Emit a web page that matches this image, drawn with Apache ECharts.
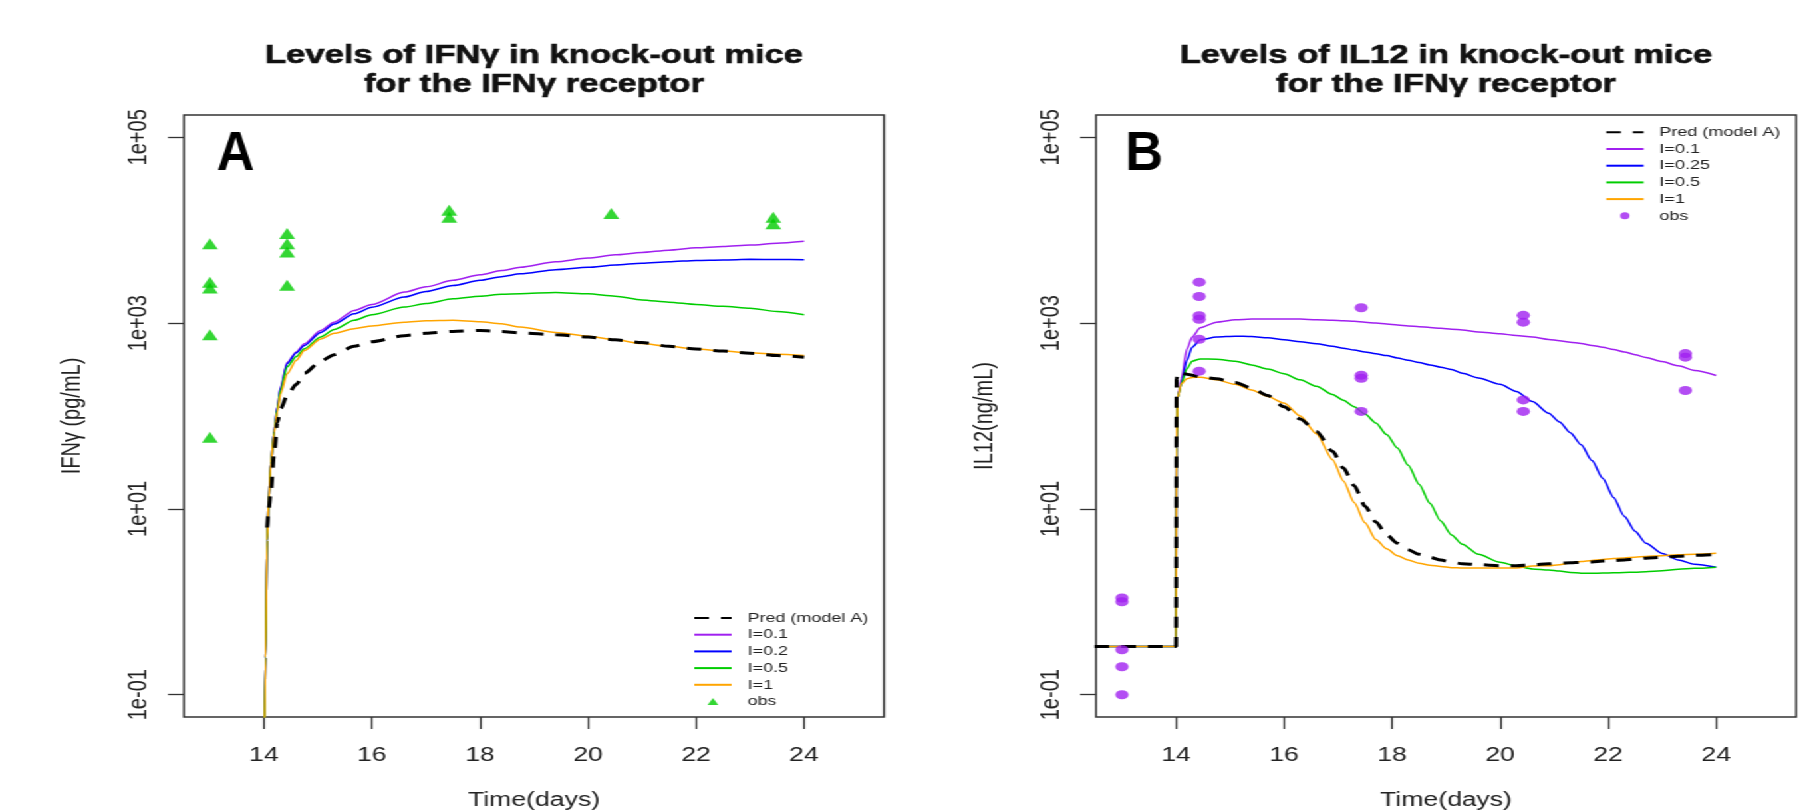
<!DOCTYPE html>
<html>
<head>
<meta charset="utf-8">
<title>Cytokine levels in IFNγ receptor knock-out mice</title>
<script src="https://cdn.jsdelivr.net/npm/echarts@6/dist/echarts.min.js"></script>
<style>
  html, body { margin: 0; padding: 0; background: #ffffff; overflow: hidden; }
  /* The two R-style panels are laid out on a narrower stage and widened as a whole. */
  #stage { width: 1366px; height: 810px; display: flex; transform: scaleX(1.33016); transform-origin: 0 0; }
  #panelA, #panelB { width: 683px; height: 810px; }
</style>
</head>
<body>
<div id="stage"><div id="panelA"></div><div id="panelB"></div></div>
<script>
// ---------- shared axis settings ----------
const xTicks = [14, 16, 18, 20, 22, 24];
const yTicks = [0.1, 10, 1000, 100000];
const yTickLabels = ['1e-01', '1e+01', '1e+03', '1e+05'];

// ---------- panel A : IFNγ (pg/mL) ----------
const timeA = [14.0, 14.03, 14.06, 14.09, 14.13, 14.19, 14.25, 14.31, 14.43, 14.6, 14.75,
  15.05, 15.3, 15.67, 16.0, 16.6, 17.0, 17.5, 18.0, 18.4, 18.75, 19.4, 20.0, 20.5, 21.0,
  21.5, 22.0, 22.5, 23.0, 23.5, 24.0];
const predA = [null, null, 6.3, 10, 15.8, 39.8, 85, 120, 166, 219, 288, 389, 457, 562, 631,
  733, 776, 813, 832, 813, 785, 750, 708, 661, 617, 562, 525, 501, 473, 447, 430];
const i01A = [0.01, 0.25, 4.6, 12.3, 31.6, 69, 126, 204, 376, 490, 600, 832, 1023, 1368, 1585,
  2158, 2455, 2884, 3311, 3673, 3981, 4571, 5012, 5433, 5754, 6095, 6457, 6683, 6918, 7244, 7586];
const i02A = [0.01, 0.25, 4.6, 12.3, 31.6, 69, 126, 200, 367, 479, 575, 794, 977, 1259, 1479,
  1905, 2188, 2541, 2884, 3162, 3388, 3758, 3981, 4217, 4416, 4571, 4732, 4786, 4853, 4842, 4819];
const i05A = [0.01, 0.25, 4.6, 12.3, 31.6, 68, 120, 191, 339, 437, 530, 708, 851, 1072, 1230,
  1486, 1622, 1828, 1950, 2042, 2070, 2138, 2065, 1950, 1778, 1679, 1585, 1514, 1445, 1334, 1230];
const i1A = [0.01, 0.25, 4.6, 12.3, 31.6, 66, 112, 174, 285, 398, 507, 676, 776, 871, 933,
  1023, 1059, 1072, 1035, 984, 906, 794, 724, 661, 603, 562, 525, 501, 479, 462, 449];
const obsDayA = [13, 13, 13, 13, 13, 14.43, 14.43, 14.43, 14.43, 17.43, 17.43, 20.43, 23.43, 23.43];
const obsValA = [7160, 2760, 2380, 750, 59, 9200, 7160, 5820, 2550, 16400, 13800, 15100, 13800, 11700];

// ---------- panel B : IL12 (ng/mL) ----------
const timeB = [12.0, 14.0, 14.01, 14.03, 14.1, 14.2, 14.3, 14.45, 14.75, 15.1, 15.4, 15.7, 16.0,
  16.3, 16.6, 16.9, 17.1, 17.3, 17.5, 17.7, 17.9, 18.1, 18.3, 18.5, 18.7, 18.9, 19.1, 19.3,
  19.6, 20.0, 20.3, 20.6, 20.9, 21.1, 21.3, 21.5, 21.7, 21.9, 22.1, 22.3, 22.5, 22.7, 23.0,
  23.3, 23.6, 24.0];
const predB = [0.33, 0.33, 251, 295, 288, 282, 275, 263, 251, 229, 200, 166, 126, 93, 68, 41.7,
  27.5, 17.8, 10.7, 7.24, 5.25, 4.27, 3.63, 3.24, 3.02, 2.82, 2.66, 2.57, 2.51, 2.45, 2.45, 2.51,
  2.57, 2.60, 2.63, 2.66, 2.69, 2.75, 2.77, 2.82, 2.88, 2.95, 3.02, 3.09, 3.16, 3.24];
const i01B = [0.33, 0.33, 45.7, 158, 251, 525, 708, 891, 1023, 1084, 1104, 1109, 1109, 1104, 1089,
  1072, 1059, 1047, 1023, 1000, 977, 955, 933, 916, 895, 881, 861, 841, 804, 767, 736, 708, 668,
  646, 624, 603, 575, 550, 519, 490, 457, 427, 385, 347, 309, 273];
const i025B = [0.33, 0.33, 45.7, 158, 224, 398, 550, 661, 708, 724, 716, 695, 661, 631, 600, 562,
  537, 513, 490, 468, 447, 422, 398, 376, 355, 335, 316, 288, 257, 219, 184, 143, 107, 86.1, 66.1,
  49.0, 33.1, 21.4, 13.3, 8.32, 5.75, 4.27, 3.31, 2.82, 2.54, 2.36];
const i05B = [0.33, 0.33, 45.7, 158, 222, 322, 389, 412, 409, 389, 355, 320, 285, 245, 209, 170,
  148, 126, 105, 84, 63.1, 45.2, 29.5, 18.4, 11.5, 7.41, 5.25, 4.17, 3.24, 2.66, 2.43, 2.26, 2.20,
  2.14, 2.07, 2.03, 2.03, 2.04, 2.05, 2.07, 2.08, 2.11, 2.16, 2.24, 2.29, 2.36];
const i1B = [0.33, 0.33, 45.7, 158, 222, 251, 260, 262, 245, 219, 191, 162, 138, 100, 64.6, 33.9,
  20.0, 11.7, 7.08, 4.68, 3.72, 3.13, 2.82, 2.60, 2.48, 2.40, 2.33, 2.31, 2.31, 2.31, 2.31, 2.43,
  2.45, 2.51, 2.63, 2.72, 2.79, 2.85, 2.92, 2.96, 3.02, 3.08, 3.13, 3.20, 3.25, 3.33];
const obsDayB = [13, 13, 13, 13, 13, 14.43, 14.43, 14.43, 14.43, 14.43, 14.43,
  17.43, 17.43, 17.43, 17.43, 20.43, 20.43, 20.43, 20.43, 23.43, 23.43, 23.43];
const obsValB = [1.1, 1.0, 0.305, 0.2, 0.1, 2760, 1936, 1200, 1100, 671, 304,
  1462, 275, 255, 112, 1211, 1023, 149, 112, 470, 430, 188];

// ---------- styling ----------
const FONT = '"Liberation Sans", Arial, Helvetica, sans-serif';
const INK = '#222222';
const FRAME = '#333333';
const COLORS = { pred: '#000000', i01: '#a020f0', i02: '#0000ff', i05: '#00cd00', i1: '#ffa500' };
// small upright triangle used as the legend key of the observations
const TRIANGLE_KEY = 'path://M0,10L5.8,0L11.6,10Z';

function pairs(xs, ys) {
  return xs.map((x, k) => [x, ys[k]]);
}

function lineSeries(name, xs, ys, color, extra) {
  return Object.assign({
    name: name,
    type: 'line',
    data: pairs(xs, ys),
    symbol: 'none',
    showSymbol: false,
    connectNulls: false,
    smooth: 0.25,
    smoothMonotone: 'x',
    clip: true,
    color: color,
    lineStyle: { color: color, width: 1.5 },
    emphasis: { disabled: true },
    z: 2
  }, extra || {});
}

function yLabel(v) {
  const e = Math.round(Math.log10(v));
  const idx = yTicks.findIndex(t => Math.abs(Math.log10(t) - e) < 1e-6);
  return idx >= 0 ? yTickLabels[idx] : '';
}

// legend entries: plain line keys (no dot) for the model curves, marker key for obs
function legendEntries(names, obsIcon) {
  return names.map(n => n === 'obs'
    ? { name: n, icon: obsIcon }
    : { name: n, itemStyle: { opacity: 0 } });
}

function panelOption(p) {
  return {
    animation: false,
    backgroundColor: '#ffffff',
    title: {
      text: p.title,
      left: p.titleX,
      top: 41,
      textAlign: 'center',
      padding: 0,
      textStyle: {
        fontFamily: FONT, fontWeight: 'bold', fontSize: 26, lineHeight: 29, color: '#111111',
        textBorderColor: '#111111', textBorderWidth: 0.6
      }
    },
    grid: {
      left: p.gridLeft, top: 115, width: 526.3, height: 602,
      outerBoundsMode: 'none',
      containLabel: false,
      show: true, borderColor: FRAME, borderWidth: 1.5, backgroundColor: 'transparent'
    },
    xAxis: {
      type: 'value',
      min: 12.52,
      max: 25.48,
      name: 'Time(days)',
      nameLocation: 'middle',
      nameGap: 73,
      nameTextStyle: { fontFamily: FONT, fontSize: 20, color: INK },
      axisLine: { show: false },
      splitLine: { show: false },
      axisTick: { show: true, length: 12, customValues: xTicks, lineStyle: { color: FRAME, width: 1.3 } },
      axisLabel: { customValues: xTicks, margin: 28, fontFamily: FONT, fontSize: 20, color: INK }
    },
    yAxis: {
      type: 'log',
      logBase: 10,
      min: Math.pow(10, -1.24),
      max: Math.pow(10, 5.24),
      name: p.yName,
      nameLocation: 'middle',
      nameGap: 74,
      nameTextStyle: { fontFamily: FONT, fontSize: 20, color: INK },
      axisLine: { show: false },
      splitLine: { show: false },
      minorTick: { show: false },
      axisTick: { show: true, length: 12, customValues: yTicks, lineStyle: { color: FRAME, width: 1.3 } },
      axisLabel: {
        customValues: yTicks, rotate: 90, margin: 24, fontFamily: FONT, fontSize: 20, color: INK,
        formatter: yLabel
      }
    },
    legend: {
      orient: 'vertical',
      left: p.legendLeft,
      top: p.legendTop,
      padding: 0,
      itemGap: 2.7,
      itemWidth: 28,
      itemHeight: 7,
      symbolKeepAspect: true,
      selectedMode: false,
      data: legendEntries(p.legendNames, p.obsIcon),
      formatter: name => '{t|' + name + '}',
      textStyle: {
        fontFamily: FONT, fontSize: 13.5, lineHeight: 14, color: INK,
        rich: { t: { fontFamily: FONT, fontSize: 13.5, lineHeight: 14, color: INK, padding: [0, 0, 0, 7] } }
      }
    },
    graphic: [{
      type: 'text',
      x: p.letterX,
      y: 155,
      scaleX: 0.7,
      silent: true,
      style: {
        text: p.letter,
        font: 'bold 56px ' + FONT,
        fill: '#000000',
        align: 'left',
        verticalAlign: 'middle'
      }
    }],
    series: p.series
  };
}

// ---------- panel A ----------
const chartA = echarts.init(document.getElementById('panelA'));
chartA.setOption(panelOption({
  title: 'Levels of IFNγ in knock-out mice\nfor the IFNγ receptor',
  titleX: 401.5,
  gridLeft: 138.3,
  yName: 'IFNγ (pg/mL)',
  legendLeft: 521,
  legendTop: 611,
  letter: 'A',
  letterX: 163,
  obsIcon: TRIANGLE_KEY,
  legendNames: ['Pred (model A)', 'I=0.1', 'I=0.2', 'I=0.5', 'I=1', 'obs'],
  series: [
    lineSeries('I=0.1', timeA, i01A, COLORS.i01),
    lineSeries('I=0.2', timeA, i02A, COLORS.i02),
    lineSeries('I=0.5', timeA, i05A, COLORS.i05),
    lineSeries('I=1', timeA, i1A, COLORS.i1),
    lineSeries('Pred (model A)', timeA, predA, COLORS.pred,
      { lineStyle: { color: COLORS.pred, width: 3, type: [11, 9] }, z: 3 }),
    {
      name: 'obs', type: 'scatter', data: pairs(obsDayA, obsValA),
      symbol: 'triangle', symbolSize: [12, 11],
      itemStyle: { color: '#00cc00' }, emphasis: { disabled: true }, z: 4
    }
  ]
}));

// ---------- panel B ----------
const chartB = echarts.init(document.getElementById('panelB'));
chartB.setOption(panelOption({
  title: 'Levels of IL12 in knock-out mice\nfor the IFNγ receptor',
  titleX: 404.1,
  gridLeft: 141,
  yName: 'IL12(ng/mL)',
  legendLeft: 523.6,
  legendTop: 125.3,
  letter: 'B',
  letterX: 163,
  obsIcon: 'circle',
  legendNames: ['Pred (model A)', 'I=0.1', 'I=0.25', 'I=0.5', 'I=1', 'obs'],
  series: [
    lineSeries('I=0.1', timeB, i01B, COLORS.i01),
    lineSeries('I=0.25', timeB, i025B, COLORS.i02),
    lineSeries('I=0.5', timeB, i05B, COLORS.i05),
    lineSeries('I=1', timeB, i1B, COLORS.i1),
    lineSeries('Pred (model A)', timeB, predB, COLORS.pred,
      { lineStyle: { color: COLORS.pred, width: 3, type: [11, 9] }, z: 3 }),
    {
      name: 'obs', type: 'scatter', data: pairs(obsDayB, obsValB),
      symbol: 'circle', symbolSize: [10, 9],
      itemStyle: { color: '#a020f0' }, emphasis: { disabled: true }, z: 4
    }
  ]
}));
</script>
</body>
</html>
